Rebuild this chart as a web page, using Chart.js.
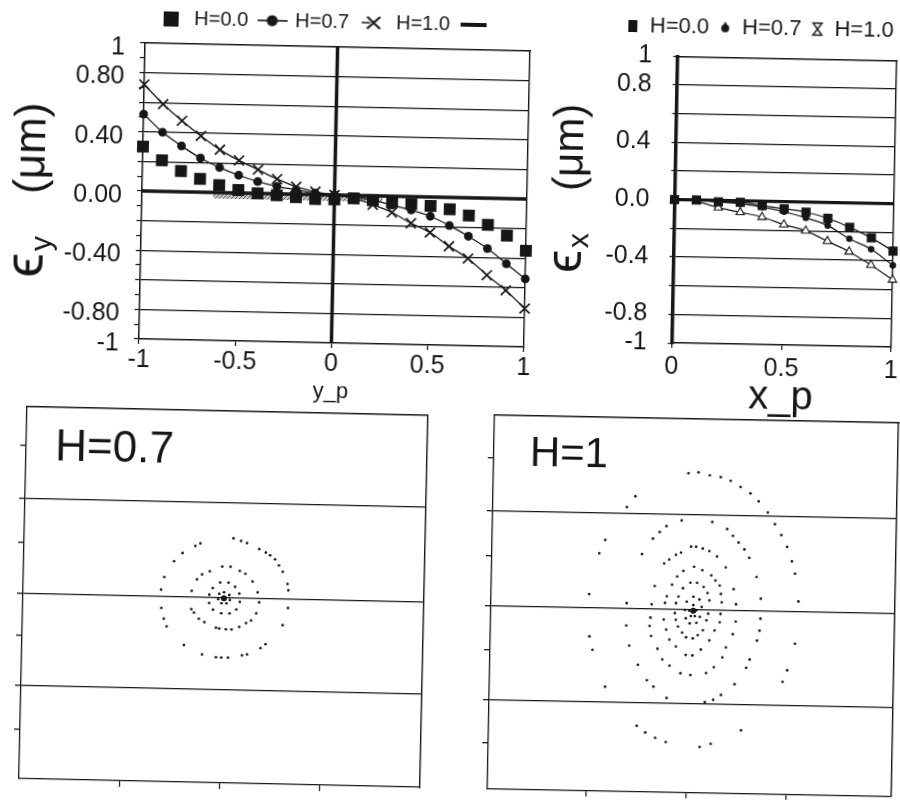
<!DOCTYPE html>
<html>
<head>
<meta charset="utf-8">
<title>Deformation vs position</title>
<script src="https://cdn.jsdelivr.net/npm/chart.js@4.4.1/dist/chart.umd.min.js"></script>
<style>
  html, body { margin:0; padding:0; background:#fff; }
  body { width:900px; height:800px; position:relative; overflow:hidden; }
  .panel { position:absolute; }
  .panel canvas { display:block; }
</style>
</head>
<body>
<div class="panel" style="left:0px;top:0px;transform-origin:334.5px 195px;transform:rotate(1.2deg)"><canvas id="c1" width="660" height="420"></canvas></div>
<div class="panel" style="left:530px;top:0px;transform-origin:254.25px 201.7px;transform:rotate(1.1deg)"><canvas id="c2" width="400" height="425"></canvas></div>
<div class="panel" style="left:0px;top:395px;transform-origin:223.25px 201.75px;transform:rotate(1.25deg)"><canvas id="c3" width="460" height="405"></canvas></div>
<div class="panel" style="left:465px;top:400px;transform-origin:228px 205.75px;transform:rotate(1.1deg)"><canvas id="c4" width="435" height="400"></canvas></div>
<script>
// ================= DATA =================
// Panel 1 : eps_y (um) versus y_p
const ypValues = [-1,-0.9,-0.8,-0.7,-0.6,-0.5,-0.4,-0.3,-0.2,-0.1,0,0.1,0.2,0.3,0.4,0.5,0.6,0.7,0.8,0.9,1];
const eyH00 = [0.30,0.21,0.14,0.09,0.05,0.02,0.00,-0.01,-0.02,-0.03,-0.03,-0.02,-0.03,-0.04,-0.05,-0.06,-0.08,-0.12,-0.18,-0.25,-0.35];
const eyH07 = [0.52,0.40,0.31,0.23,0.17,0.12,0.08,0.05,0.03,0.01,0.00,-0.01,-0.03,-0.06,-0.09,-0.13,-0.19,-0.26,-0.34,-0.44,-0.54];
const eyH10 = [0.72,0.59,0.48,0.38,0.29,0.22,0.16,0.10,0.05,0.02,0.00,-0.02,-0.06,-0.11,-0.18,-0.24,-0.33,-0.41,-0.52,-0.62,-0.74];
const eyTickVals  = [-1,-0.9,-0.8,-0.7,-0.6,-0.5,-0.4,-0.3,-0.2,-0.1,0,0.1,0.2,0.3,0.4,0.5,0.6,0.7,0.8,0.9,1];
const eyLabelVals = [1,0.8,0.4,0,-0.4,-0.8,-1];
const eyLabelText = ['1','0.80','0.40','0.00','-0.40','-0.80','-1'];
const eyGridVals  = [0.8,0.6,0.4,0.2,-0.2,-0.4,-0.6,-0.8];
const ypTickVals  = [-1,-0.5,0,0.5,1];
const ypTickText  = ['-1','-0.5','0','0.5','1'];
const bandX = [-0.63, 0.25];
const bandY = [-0.02, -0.02];

// Panel 2 : eps_x (um) versus x_p
const xpValues = [0,0.1,0.2,0.3,0.4,0.5,0.6,0.7,0.8,0.9,1];
const exH00 = [0,0,-0.01,-0.01,-0.03,-0.05,-0.07,-0.11,-0.17,-0.24,-0.33];
const exH07 = [0,0,-0.01,-0.02,-0.04,-0.07,-0.11,-0.16,-0.25,-0.32,-0.43];
const exH10 = [0,-0.01,-0.05,-0.08,-0.11,-0.16,-0.20,-0.27,-0.34,-0.43,-0.53];
const exTickVals  = [-1,-0.8,-0.6,-0.4,-0.2,0,0.2,0.4,0.6,0.8,1];
const exLabelVals = [1,0.8,0.4,0,-0.4,-0.8,-1];
const exLabelText = ['1','0.8','0.4','0.0','-0.4','-0.8','-1'];
const exGridVals  = [0.8,0.6,0.4,0.2,-0.2,-0.4,-0.6,-0.8];
const xpTickVals  = [0,0.5,1];
const xpTickText  = ['0','0.5','1'];

// Panel 3 : H=0.7 phase portrait
const h07Ring1 = [[0.25,1.80],[-0.74,1.63],[-0.89,1.55],[-1.27,1.33],[-1.52,1.08],[-1.80,0.60],[-1.89,0.22],[-1.87,-0.33],[-1.79,-0.65],[-1.70,-0.88],[-1.17,-1.43],[-0.62,-1.70],[-0.20,-1.77],[-0.04,-1.78],[0.16,-1.78],[0.58,-1.70],[0.73,-1.67],[1.13,-1.47],[1.28,-1.35],[1.78,-0.77],[1.93,-0.25],[1.93,0.28],[1.90,0.47],[1.75,0.83],[1.63,1.02],[1.51,1.20],[1.36,1.32],[1.23,1.40],[1.03,1.50],[0.66,1.67],[0.48,1.73]];
const h07Ring2 = [[-0.07,0.95],[0.18,0.95],[0.46,0.83],[0.63,0.75],[0.85,0.52],[1.01,0.20],[1.06,-0.10],[0.98,-0.43],[0.83,-0.65],[0.68,-0.73],[0.48,-0.85],[0.25,-0.93],[0.08,-0.93],[-0.12,-0.91],[-0.22,-0.89],[-0.57,-0.73],[-0.74,-0.63],[-0.89,-0.45],[-0.97,-0.35],[-0.97,0.20],[-0.82,0.55],[-0.67,0.70],[-0.44,0.80]];
const h07Ring3 = [[-0.12,0.47],[0.13,0.47],[0.33,0.35],[0.46,0.15],[0.48,-0.10],[0.38,-0.33],[0.18,-0.45],[-0.07,-0.45],[-0.32,-0.35],[-0.44,-0.15],[-0.44,0.10],[-0.34,0.30]];
const h07Ring4 = [[0,0.18],[0.16,0.10],[0.18,-0.05],[0.08,-0.15],[-0.07,-0.15],[-0.17,-0.03],[-0.14,0.13]];
const h07Center = [[0,0]];
const p3GridY = [2.87,0.02,-2.75];
const p3TickY = [4.45,1.55,-1.25,-4.05];
const p3TickX = [-3,0,3];

// Panel 4 : H=1 phase portrait
const h10Ring1 = [[-0.12,4.12],[0.18,4.15],[0.52,4.07],[0.85,4.02],[1.15,3.92],[1.45,3.74],[1.75,3.55],[2.00,3.32],[2.28,2.99],[2.50,2.64],[2.70,2.32],[2.88,1.97],[3.03,1.54],[3.13,1.17],[3.25,0.34],[3.17,-0.93],[2.95,-1.73],[2.82,-2.08],[1.60,-3.56],[0.70,-3.98],[0.37,-4.08],[-0.65,-3.95],[-0.97,-3.83],[-1.27,-3.68],[-1.53,-3.48],[-2.50,-2.33],[-2.90,-1.23],[-3.00,-0.83],[-3.03,0.44],[-2.75,1.67],[-2.58,2.07],[-1.95,3.07],[-1.70,3.40]];
const h10Ring2 = [[-0.30,2.70],[-0.75,2.52],[-0.95,2.34],[-1.15,2.14],[-1.47,1.67],[-1.90,0.19],[-1.90,-0.48],[-1.80,-1.08],[-1.53,-1.65],[-1.25,-2.11],[-1.05,-2.30],[-0.65,-2.63],[0.50,-2.73],[0.75,-2.66],[0.98,-2.51],[1.38,-2.18],[1.72,-1.68],[1.82,-1.43],[2.03,-0.86],[2.10,-0.56],[2.12,-0.20],[2.12,0.40],[1.98,1.05],[1.75,1.62],[1.60,1.87],[1.42,2.07],[1.25,2.27],[1.07,2.47],[0.62,2.67]];
const h10Ring3 = [[0,1.92],[0.15,1.92],[0.35,1.87],[0.55,1.80],[0.78,1.64],[1.05,1.32],[1.30,0.67],[1.38,0.22],[1.38,-0.30],[1.30,-0.68],[1.10,-1.08],[1.00,-1.38],[0.75,-1.68],[0.52,-1.86],[0.05,-1.93],[-0.25,-1.88],[-0.58,-1.66],[-0.80,-1.48],[-0.95,-1.16],[-1.15,-0.78],[-1.20,-0.48],[-1.18,-0.23],[-1.15,0.17],[-1.07,0.72],[-0.80,1.40],[-0.65,1.52],[-0.45,1.67],[-0.30,1.74]];
const h10Ring4 = [[0.10,1.32],[0.35,1.22],[0.62,1.07],[0.75,0.92],[0.88,0.77],[0.92,0.52],[0.95,0.27],[0.92,-0.08],[0.90,-0.33],[0.75,-0.58],[0.60,-0.88],[0.35,-1.16],[0.10,-1.34],[-0.10,-1.33],[-0.40,-1.08],[-0.60,-0.88],[-0.70,-0.58],[-0.78,-0.28],[-0.75,0.22],[-0.70,0.42],[-0.55,0.77],[-0.40,1.02],[-0.22,1.19]];
const h10Ring5 = [[0,0.84],[0.20,0.84],[0.40,0.72],[0.52,0.54],[0.58,0.32],[0.55,-0.08],[0.50,-0.28],[0.40,-0.58],[0.25,-0.73],[0.10,-0.83],[-0.10,-0.80],[-0.22,-0.66],[-0.35,-0.48],[-0.42,-0.28],[-0.45,-0.08],[-0.42,0.22],[-0.35,0.42],[-0.22,0.67]];
const h10Ring6 = [[0.10,0.42],[0.28,0.34],[0.35,0.12],[0.30,-0.18],[0.20,-0.36],[0,-0.38],[-0.12,-0.23],[-0.15,0.02],[-0.10,0.27]];
const h10Ring7 = [[0.10,0.17],[0.20,0.02],[0.15,-0.16],[0.03,-0.16],[-0.02,0]];
const h10Center = [[0.10,0]];
const p4GridY = [2.87,0.04,-2.80];
const p4TickY = [4.47,1.52,-1.28,-4.08];
const p4TickX = [-3,0,3];

// ================= HELPERS =================
const INK = '#161616';
const FONT = "'Liberation Sans', Arial, Helvetica, sans-serif";
Chart.defaults.font.family = FONT;
Chart.defaults.color = INK;

const near = (a, b) => Math.abs(a - b) < 1e-6;
const pts = (xs, ys) => xs.map((x, i) => ({x: x, y: ys[i]}));
const pairs = arr => arr.map(p => ({x: p[0], y: p[1]}));
const setTicks = vals => scale => { scale.ticks = vals.map(v => ({value: v})); };
const labelFrom = (vals, txt) => v => { const i = vals.findIndex(a => near(a, v)); return i < 0 ? '' : txt[i]; };
const gridFrom = (vals, col) => ctx => (ctx.tick && vals.some(a => near(a, ctx.tick.value))) ? col : 'rgba(0,0,0,0)';
const fixW = w => s => { s.width = w; };
const fixH = h => s => { s.height = h; };

function mark(w, h, draw) {
  const c = document.createElement('canvas');
  c.width = w; c.height = h;
  const g = c.getContext('2d');
  g.fillStyle = INK; g.strokeStyle = INK;
  draw(g, w, h);
  return c;
}
const legend1Marks = [
  mark(15, 15, g => g.fillRect(0, 0, 15, 15)),
  mark(30, 12, g => { g.lineWidth = 1.6; g.beginPath(); g.moveTo(0, 6); g.lineTo(30, 6); g.stroke(); g.beginPath(); g.arc(15, 6, 5.5, 0, Math.PI * 2); g.fill(); }),
  mark(22, 16, g => { g.lineWidth = 2.2; g.beginPath(); g.moveTo(5, 2); g.lineTo(18, 14); g.moveTo(18, 2); g.lineTo(5, 14); g.stroke(); g.lineWidth = 1.5; g.beginPath(); g.moveTo(0, 8); g.lineTo(8, 8); g.stroke(); }),
  mark(26, 6, g => g.fillRect(0, 1, 26, 4))
];
const legend2Marks = [
  mark(9, 12, g => g.fillRect(0, 0, 9, 12)),
  mark(10, 12, g => { g.beginPath(); g.arc(5, 7, 4, 0, Math.PI * 2); g.fill(); g.beginPath(); g.moveTo(3, 4); g.lineTo(5, 0); g.lineTo(7, 4); g.fill(); }),
  mark(12, 15, g => { g.lineWidth = 1.4; g.beginPath(); g.moveTo(1.5, 1.5); g.lineTo(10.5, 1.5); g.lineTo(6, 7.5); g.closePath(); g.moveTo(6, 7.5); g.lineTo(1.5, 13.5); g.lineTo(10.5, 13.5); g.closePath(); g.stroke(); })
];

function hatchPattern(ctx) {
  const c = document.createElement('canvas');
  c.width = 4; c.height = 4;
  const g = c.getContext('2d');
  g.fillStyle = '#c9c9c9'; g.fillRect(0, 0, 4, 4);
  g.strokeStyle = '#5a5a5a'; g.lineWidth = 1;
  g.beginPath(); g.moveTo(0, 4); g.lineTo(4, 0); g.stroke();
  return ctx.createPattern(c, 'repeat');
}

function rotTitle(id, baseX, startY, parts) {
  return { id: id, afterDraw(chart) {
    const g = chart.ctx;
    g.save();
    g.translate(baseX, startY);
    g.rotate(-Math.PI / 2);
    g.fillStyle = INK; g.textBaseline = 'alphabetic'; g.textAlign = 'left';
    let x = 0;
    for (const p of parts) {
      g.font = p.size + 'px ' + FONT;
      g.fillText(p.text, x, p.dy);
      x += g.measureText(p.text).width + (p.gap || 0);
    }
    g.restore();
  }};
}
function textLabel(id, text, x, y, size) {
  return { id: id, afterDraw(chart) {
    const g = chart.ctx;
    g.save();
    g.font = size + 'px ' + FONT; g.fillStyle = INK; g.textBaseline = 'alphabetic'; g.textAlign = 'left';
    g.fillText(text, x, y);
    g.restore();
  }};
}
function frameAxis(pos, size, mn, mx) {
  const o = { type: 'linear', position: pos, min: mn, max: mx,
    ticks: { display: false }, grid: { display: false },
    border: { display: true, color: INK, width: 1.4 } };
  if (pos === 'top' || pos === 'bottom') o.afterFit = fixH(size); else o.afterFit = fixW(size);
  return o;
}
const baseOpts = { responsive: false, animation: false, events: [] };

// ================= PANEL 1 =================
const c1 = document.getElementById('c1');
new Chart(c1, {
  type: 'scatter',
  data: { datasets: [
    { label: 'H=0.0', data: pts(ypValues, eyH00), showLine: false, clip: false,
      pointStyle: 'rect', pointRadius: 8.4, backgroundColor: INK, borderColor: INK, borderWidth: 0 },
    { label: 'H=0.7', data: pts(ypValues, eyH07), showLine: true, clip: false, cubicInterpolationMode: 'monotone',
      borderColor: INK, borderWidth: 1.3, pointStyle: 'circle', pointRadius: 4.4,
      pointBackgroundColor: INK, pointBorderColor: INK, pointBorderWidth: 0 },
    { label: 'H=1.0', data: pts(ypValues, eyH10), showLine: true, clip: false, cubicInterpolationMode: 'monotone',
      borderColor: INK, borderWidth: 1.3, pointStyle: 'crossRot', pointRadius: 7,
      pointBorderColor: INK, pointBorderWidth: 1.7 },
    { label: '', data: [{x: -1, y: 0}, {x: 1, y: 0}], showLine: true, borderColor: INK, borderWidth: 3.5, pointRadius: 0 },
    { label: 'axis', data: [{x: 0, y: -1}, {x: 0, y: 1}], showLine: true, borderColor: INK, borderWidth: 3.5, pointRadius: 0 },
    { label: 'band', data: pts(bandX, bandY), showLine: true, borderColor: hatchPattern(c1.getContext('2d')), borderWidth: 6, pointRadius: 0 }
  ]},
  options: Object.assign({}, baseOpts, {
    layout: { padding: { left: 0, right: 12, top: 1, bottom: 0 } },
    plugins: {
      tooltip: { enabled: false },
      legend: { position: 'top', align: 'center',
        labels: { usePointStyle: true, pointStyleWidth: 26, padding: 11, color: INK, font: { size: 20 },
          generateLabels(chart) {
            const items = Chart.defaults.plugins.legend.labels.generateLabels(chart);
            return items.filter(it => it.datasetIndex < 4).map(it => { it.pointStyle = legend1Marks[it.datasetIndex]; return it; });
          } } }
    },
    scales: {
      x: { type: 'linear', position: 'bottom', min: -1, max: 1,
        afterBuildTicks: setTicks(ypTickVals), afterFit: fixH(77),
        ticks: { callback: labelFrom(ypTickVals, ypTickText), font: { size: 25 }, padding: 1, autoSkip: false, maxRotation: 0, color: INK },
        grid: { drawOnChartArea: false, tickLength: 5, color: INK, lineWidth: 1.2 },
        border: { color: INK, width: 1.5 },
        title: { display: true, text: 'y_p', font: { size: 22 }, color: INK, padding: { top: 0, bottom: 15 } } },
      y: { type: 'linear', position: 'left', min: -1, max: 1,
        afterBuildTicks: setTicks(eyTickVals), afterFit: fixW(142),
        ticks: { callback: labelFrom(eyLabelVals, eyLabelText), font: { size: 25 }, padding: 15, labelOffset: 5, autoSkip: false, color: INK },
        grid: { color: gridFrom(eyGridVals, INK), tickColor: INK, tickLength: 5, lineWidth: 1.2 },
        border: { color: INK, width: 1.5 } },
      x2: frameAxis('top', 5, -1, 1),
      y2: frameAxis('right', 121, -1, 1)
    }
  }),
  plugins: [rotTitle('t1', 43.5, 284, [
    { text: 'ϵ', size: 56, dy: 0, gap: 2 },
    { text: 'y', size: 30, dy: 8, gap: 42 },
    { text: '(μm)', size: 44, dy: 0 }
  ])]
});

// ================= PANEL 2 =================
new Chart(document.getElementById('c2'), {
  type: 'scatter',
  data: { datasets: [
    { label: 'H=0.0', data: pts(xpValues, exH00), showLine: true, clip: false, cubicInterpolationMode: 'monotone',
      borderColor: INK, borderWidth: 1.2, pointStyle: 'rect', pointRadius: 6.5, pointBackgroundColor: INK, pointBorderWidth: 0 },
    { label: 'H=0.7', data: pts(xpValues, exH07), showLine: true, clip: false, cubicInterpolationMode: 'monotone',
      borderColor: INK, borderWidth: 1.2, pointStyle: 'circle', pointRadius: 3.3, pointBackgroundColor: INK, pointBorderWidth: 0 },
    { label: 'H=1.0', data: pts(xpValues, exH10), showLine: true, clip: false, cubicInterpolationMode: 'monotone',
      borderColor: INK, borderWidth: 1.2, pointStyle: 'triangle', pointRadius: 4.8,
      pointBackgroundColor: '#ffffff', pointBorderColor: INK, pointBorderWidth: 1.1 },
    { label: 'zero', data: [{x: 0, y: 0}, {x: 1, y: 0}], showLine: true, borderColor: INK, borderWidth: 3.2, pointRadius: 0 }
  ]},
  options: Object.assign({}, baseOpts, {
    layout: { padding: { left: 54, right: 0, top: 7.5, bottom: 0 } },
    plugins: {
      tooltip: { enabled: false },
      legend: { position: 'top', align: 'center',
        labels: { usePointStyle: true, pointStyleWidth: 12, padding: 10, color: INK, font: { size: 22 },
          generateLabels(chart) {
            const items = Chart.defaults.plugins.legend.labels.generateLabels(chart);
            return items.filter(it => it.datasetIndex < 3).map(it => { it.pointStyle = legend2Marks[it.datasetIndex]; return it; });
          } } }
    },
    scales: {
      x: { type: 'linear', position: 'bottom', min: 0, max: 1,
        afterBuildTicks: setTicks(xpTickVals), afterFit: fixH(79.9),
        ticks: { callback: labelFrom(xpTickVals, xpTickText), font: { size: 25 }, padding: 4, autoSkip: false, maxRotation: 0, color: INK },
        grid: { drawOnChartArea: false, tickLength: 5, color: INK, lineWidth: 1.2 },
        border: { color: INK, width: 1.5 },
        title: { display: true, text: 'x_p', font: { size: 40 }, color: INK, padding: { top: 0, bottom: 3 } } },
      y: { type: 'linear', position: 'left', min: -1, max: 1,
        afterBuildTicks: setTicks(exTickVals), afterFit: fixW(90.5),
        ticks: { callback: labelFrom(exLabelVals, exLabelText), font: { size: 25 }, padding: 21, autoSkip: false, color: INK },
        grid: { color: gridFrom(exGridVals, INK), tickColor: INK, tickLength: 4, lineWidth: 1.2 },
        border: { color: INK, width: 3.5 } },
      x2: frameAxis('top', 8.8, 0, 1),
      y2: frameAxis('right', 36, -1, 1)
    }
  }),
  plugins: [rotTitle('t2', 51.5, 277, [
    { text: 'ϵ', size: 52, dy: 0, gap: 2 },
    { text: 'x', size: 30, dy: 7, gap: 42 },
    { text: '(μm)', size: 42, dy: 0 }
  ])]
});

// ================= PANELS 3 & 4 (phase portraits) =================
function portrait(canvasId, rings, center, opt) {
  const all = [].concat(...rings);
  const yTicks = opt.gridY.concat(opt.tickY).sort((a, b) => a - b);
  new Chart(document.getElementById(canvasId), {
    type: 'scatter',
    data: { datasets: [
      { label: opt.title + ' orbit', data: pairs(all), pointRadius: 1.35, pointBackgroundColor: INK, pointBorderWidth: 0 },
      { label: opt.title + ' centre', data: pairs(center), pointRadius: 3, pointBackgroundColor: INK, pointBorderWidth: 0 }
    ]},
    options: Object.assign({}, baseOpts, {
      layout: { padding: opt.pad },
      plugins: { tooltip: { enabled: false }, legend: { display: false } },
      scales: {
        x: { type: 'linear', position: 'bottom', min: opt.xr[0], max: opt.xr[1],
          afterBuildTicks: setTicks(opt.tickX), afterFit: fixH(opt.bottomH),
          ticks: { display: false },
          grid: { drawOnChartArea: false, tickLength: 6, color: INK, lineWidth: 1.2 },
          border: { color: INK, width: 1.3 } },
        y: { type: 'linear', position: 'left', min: opt.yr[0], max: opt.yr[1],
          afterBuildTicks: setTicks(yTicks), afterFit: fixW(opt.leftW),
          ticks: { display: false },
          grid: { color: gridFrom(opt.gridY, INK), tickColor: INK, tickLength: 6, lineWidth: 1.3 },
          border: { color: INK, width: 1.3 } },
        x2: frameAxis('top', 0, opt.xr[0], opt.xr[1]),
        y2: frameAxis('right', 0, opt.yr[0], opt.yr[1])
      }
    }),
    plugins: [textLabel(canvasId + 'lbl', opt.title, opt.tx, opt.ty, opt.tsize)]
  });
}

portrait('c3', [h07Ring1, h07Ring2, h07Ring3, h07Ring4], h07Center, {
  title: 'H=0.7', xr: [-6.03, 5.99], yr: [-5.54, 5.63],
  gridY: p3GridY, tickY: p3TickY, tickX: p3TickX,
  pad: { left: 0, right: 36.5, top: 15.5, bottom: 0 }, leftW: 23, bottomH: 17,
  tx: 52, ty: 68.5, tsize: 44
});

portrait('c4', [h10Ring1, h10Ring2, h10Ring3, h10Ring4, h10Ring5, h10Ring6, h10Ring7], h10Center, {
  title: 'H=1', xr: [-5.97, 6.15], yr: [-5.45, 5.75],
  gridY: p4GridY, tickY: p4TickY, tickX: p4TickX,
  pad: { left: 0, right: 5, top: 19, bottom: 0 }, leftW: 26, bottomH: 7.5,
  tx: 62, ty: 68.5, tsize: 42
});
</script>
</body>
</html>
